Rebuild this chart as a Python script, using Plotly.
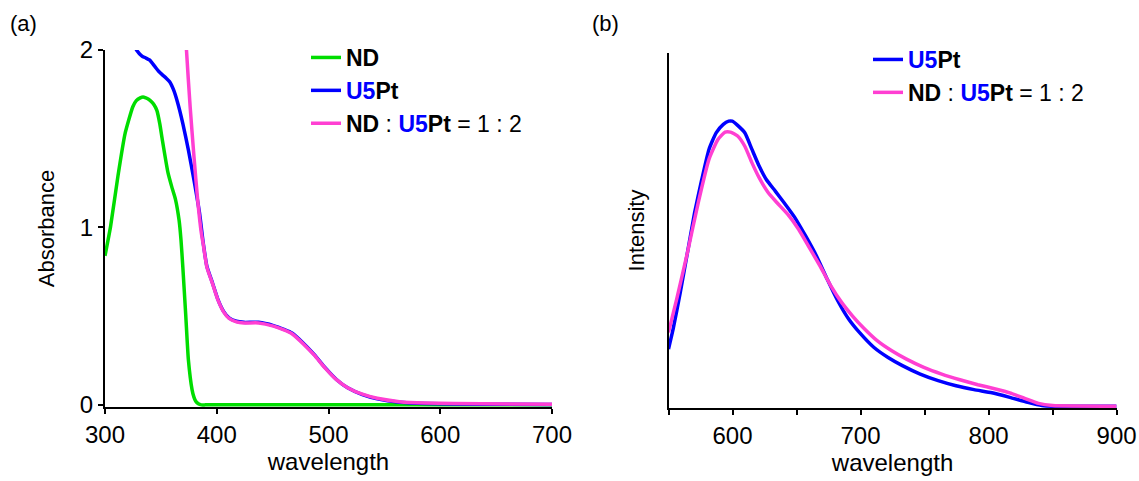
import plotly.graph_objects as go

# ---------------- (a) absorption spectra ----------------
nd_wl = [300, 305, 311.6, 318, 324.9, 328, 331.5, 334, 336.5, 339, 341.4, 344, 346.4, 349,
         351.4, 356.3, 359.7, 363, 366.3, 368, 369.6, 372.3, 374.6, 377.9, 379.5, 381.2,
         383.5, 386.2, 390, 450, 550, 700]
nd_abs = [0.84, 1.006, 1.29, 1.53, 1.68, 1.715, 1.73, 1.735, 1.73, 1.722, 1.71, 1.69, 1.66,
          1.585, 1.49, 1.31, 1.23, 1.16, 1.04, 0.93, 0.78, 0.50, 0.255, 0.086, 0.045, 0.02,
          0.006, 0.0, 0.0, 0.0, 0.0, 0.0]

u5pt_wl = [326, 328.2, 333.1, 336.5, 339.8, 344.7, 348, 351.4, 355, 358, 361.4, 364.7, 369.6,
           374.6, 379.6, 384.6, 387.9, 391.2, 396.2, 401.1, 406.1, 411, 417.6, 424.3, 437.5,
           450.8, 460.7, 467.3, 477.3, 487.3, 497.2, 507.1, 517.1, 530.3, 543.6, 563.5, 586.7,
           636.4, 700]
u5pt_abs = [2.03, 2.0, 1.966, 1.955, 1.944, 1.906, 1.88, 1.86, 1.84, 1.82, 1.775, 1.71, 1.587,
            1.437, 1.268, 1.081, 0.912, 0.78, 0.687, 0.593, 0.527, 0.49, 0.471, 0.465, 0.465,
            0.447, 0.424, 0.405, 0.349, 0.283, 0.208, 0.143, 0.096, 0.058, 0.034, 0.015,
            0.0075, 0.004, 0.002]

mix_wl = [371, 372.9, 376.2, 379.6, 382.9, 386.2, 387.9, 391.2, 396.2, 401.1, 406.1, 411,
          417.6, 424.3, 437.5, 450.8, 460.7, 467.3, 477.3, 487.3, 497.2, 507.1, 517.1, 530.3,
          543.6, 563.5, 586.7, 636.4, 700]
mix_abs = [2.3, 2.0, 1.68, 1.40, 1.156, 0.968, 0.905, 0.775, 0.683, 0.590, 0.524, 0.487,
           0.468, 0.462, 0.462, 0.444, 0.421, 0.401, 0.345, 0.280, 0.206, 0.142, 0.097, 0.06,
           0.037, 0.018, 0.01, 0.006, 0.004]

# ---------------- (b) emission spectra ----------------
em_u5pt_wl = [550, 553.6, 559.2, 564.8, 570.4, 576, 581.6, 587.2, 592.8, 597, 599.8, 604,
              609.6, 615.2, 620.8, 626.4, 633.4, 640.3, 648.7, 657.1, 665.5, 673.9, 682.3,
              690.7, 699.1, 710.3, 721.5, 732.7, 746.6, 760.6, 774.6, 788.6, 802.6, 816.6,
              830.6, 841.7, 850, 900]
em_u5pt_int = [0.162, 0.218, 0.322, 0.435, 0.548, 0.642, 0.727, 0.774, 0.798, 0.807, 0.807,
               0.795, 0.774, 0.727, 0.68, 0.642, 0.609, 0.576, 0.534, 0.482, 0.426, 0.36,
               0.298, 0.247, 0.209, 0.167, 0.138, 0.115, 0.091, 0.0725, 0.058, 0.047, 0.038,
               0.025, 0.011, 0.002, 0.0, 0.0]

em_mix_wl = [550, 556.4, 564.8, 573.2, 581.6, 588.6, 594.2, 598.4, 604, 609.6, 615.2, 620.8,
             627.8, 634.8, 643.2, 651.6, 660, 668.4, 676.8, 685.2, 693.6, 702, 713.2, 724.4,
             735.5, 749.4, 763.4, 777.6, 791.6, 805.4, 816.6, 827.8, 839, 850, 900]
em_mix_int = [0.209, 0.303, 0.435, 0.576, 0.699, 0.755, 0.776, 0.776, 0.765, 0.736, 0.689,
               0.647, 0.605, 0.576, 0.543, 0.501, 0.449, 0.397, 0.341, 0.294, 0.256, 0.223,
               0.185, 0.157, 0.134, 0.11, 0.091, 0.075, 0.061, 0.049, 0.038, 0.023, 0.008,
               0.002, 0.0]

abs_ticks = [300, 400, 500, 600, 700]
abs_y_ticks = [0, 1, 2]
em_ticks = [550, 600, 650, 700, 750, 800, 850, 900]
em_tick_text = ["", "600", "", "700", "", "800", "", "900"]

GREEN = "#00DD00"
BLUE = "#0000FF"
PINK = "#FF3FD2"
FONT = "Liberation Sans, Arial, sans-serif"

name_nd = "<b>ND</b>"
name_u5pt = "<b><span style='color:#0000FF'>U5</span>Pt</b>"
name_mix = "<b>ND</b> : <b><span style='color:#0000FF'>U5</span>Pt</b> = 1 : 2"

fig = go.Figure()


def curve(x, y, name, color, xa, ya, leg):
    return go.Scatter(x=x, y=y, mode="lines", name=name,
                      line=dict(color=color, width=3.5, shape="spline", smoothing=0.5),
                      xaxis=xa, yaxis=ya, legend=leg)


fig.add_trace(curve(nd_wl, nd_abs, name_nd, GREEN, "x", "y", "legend"))
fig.add_trace(curve(u5pt_wl, u5pt_abs, name_u5pt, BLUE, "x", "y", "legend"))
fig.add_trace(curve(mix_wl, mix_abs, name_mix, PINK, "x", "y", "legend"))
fig.add_trace(curve(em_u5pt_wl, em_u5pt_int, name_u5pt, BLUE, "x2", "y2", "legend2"))
fig.add_trace(curve(em_mix_wl, em_mix_int, name_mix, PINK, "x2", "y2", "legend2"))

W, H = 1139, 481

axis_common = dict(showgrid=False, zeroline=False, showline=True, linecolor="black",
                   linewidth=2, tickcolor="black", tickwidth=2, ticklen=5,
                   automargin=False,
                   tickfont=dict(family=FONT, size=24, color="black"))

xtitle_font = dict(family=FONT, size=24, color="black")
ytitle_font = dict(family=FONT, size=22, color="black")

legend_common = dict(font=dict(family=FONT, size=23, color="black"),
                     bgcolor="rgba(0,0,0,0)", xanchor="left", yanchor="top",
                     traceorder="normal", itemwidth=30)

fig.update_layout(
    width=W, height=H,
    margin=dict(l=0, r=0, t=0, b=0),
    paper_bgcolor="white", plot_bgcolor="white",
    font=dict(family=FONT, color="black"),
    xaxis=dict(domain=[105 / W, 552 / W], range=[300, 700], tickvals=abs_ticks,
               ticks="outside", anchor="y",
               title=dict(text="wavelength", standoff=4, font=xtitle_font), **axis_common),
    yaxis=dict(domain=[74 / H, 431 / H], range=[-0.012, 2.0], tickvals=abs_y_ticks,
               ticks="outside", anchor="x",
               title=dict(text="Absorbance", standoff=19, font=ytitle_font), **axis_common),
    xaxis2=dict(domain=[668.5 / W, 1116.6 / W], range=[550, 900], tickvals=em_ticks,
                ticktext=em_tick_text, ticks="outside", anchor="y2",
                title=dict(text="wavelength", standoff=4, font=xtitle_font), **axis_common),
    yaxis2=dict(domain=[73 / H, 428 / H], range=[-0.005, 1.0], ticks="",
                showticklabels=False, anchor="x2",
                title=dict(text="Intensity", standoff=16, font=ytitle_font), **axis_common),
    legend=dict(x=306 / W, y=1 - 36 / H, **legend_common),
    legend2=dict(x=868 / W, y=1 - 38 / H, **legend_common),
    annotations=[
        dict(text="(a)", x=8 / W, y=1 - 23 / H, xref="paper", yref="paper",
             xanchor="left", yanchor="middle", showarrow=False,
             font=dict(family=FONT, size=22, color="black")),
        dict(text="(b)", x=590 / W, y=1 - 23 / H, xref="paper", yref="paper",
             xanchor="left", yanchor="middle", showarrow=False,
             font=dict(family=FONT, size=22, color="black")),
    ],
)

fig.write_html("out.html")
